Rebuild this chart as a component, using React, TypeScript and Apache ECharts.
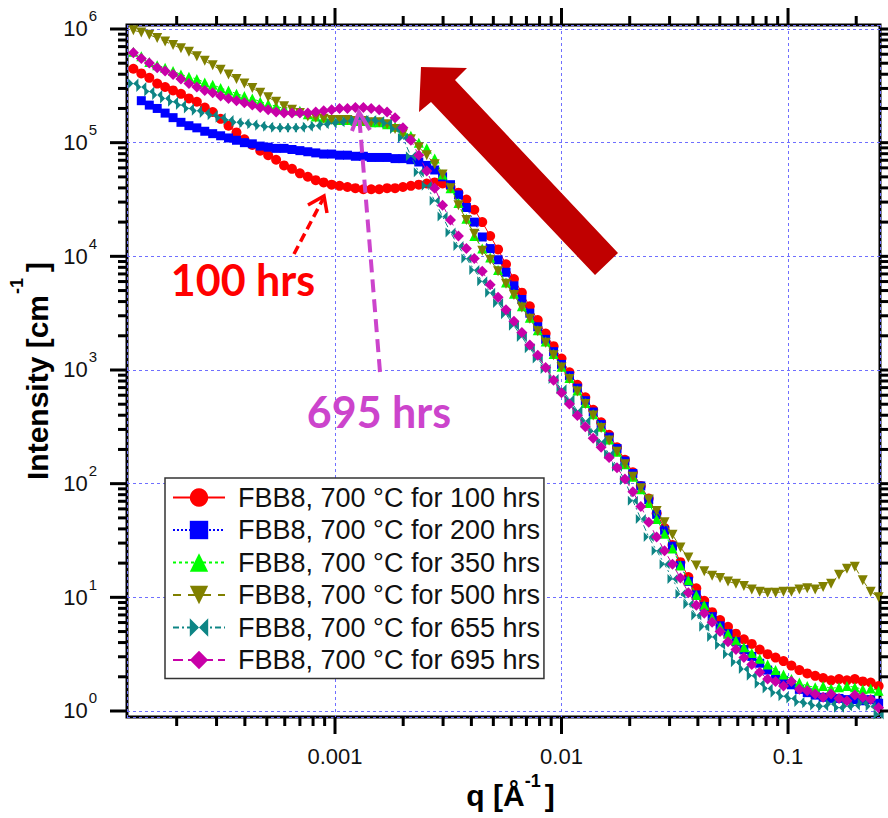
import { useEffect, useRef } from 'react';
import * as echarts from 'echarts';

// q grid (1/Å)
const qValues = [
  1.288e-4, 1.396e-4, 1.514e-4, 1.641e-4, 1.778e-4, 1.928e-4, 2.089e-4, 2.265e-4, 2.455e-4, 2.661e-4,
  2.884e-4, 3.126e-4, 3.388e-4, 3.673e-4, 3.981e-4, 4.315e-4, 4.677e-4, 5.070e-4, 5.495e-4, 5.957e-4,
  6.457e-4, 6.998e-4, 7.586e-4, 8.222e-4, 8.913e-4, 9.661e-4, 1.047e-3, 1.135e-3, 1.230e-3, 1.334e-3,
  1.445e-3, 1.567e-3, 1.698e-3, 1.841e-3, 1.995e-3, 2.163e-3, 2.344e-3, 2.541e-3, 2.754e-3, 2.985e-3,
  3.236e-3, 3.508e-3, 3.802e-3, 4.121e-3, 4.467e-3, 4.842e-3, 5.248e-3, 5.689e-3, 6.166e-3, 6.683e-3,
  7.244e-3, 7.852e-3, 8.511e-3, 9.226e-3, 1.000e-2, 1.084e-2, 1.175e-2, 1.274e-2, 1.380e-2, 1.496e-2,
  1.622e-2, 1.758e-2, 1.905e-2, 2.065e-2, 2.239e-2, 2.427e-2, 2.630e-2, 2.851e-2, 3.090e-2, 3.350e-2,
  3.631e-2, 3.936e-2, 4.266e-2, 4.624e-2, 5.012e-2, 5.433e-2, 5.888e-2, 6.383e-2, 6.918e-2, 7.499e-2,
  8.128e-2, 8.810e-2, 9.550e-2, 0.1035, 0.1122, 0.1216, 0.1318, 0.1429, 0.1549, 0.1679,
  0.1820, 0.1972, 0.2138, 0.2317, 0.2512,
];

const i100 = [
  4.47e5, 4.07e5, 3.72e5, 3.31e5, 3.09e5, 2.88e5, 2.69e5, 2.45e5, 2.29e5, 2.04e5,
  1.86e5, 1.62e5, 1.41e5, 1.23e5, 1.07e5, 9.55e4, 8.51e4, 7.76e4, 7.08e4, 6.31e4,
  5.89e4, 5.37e4, 5.01e4, 4.68e4, 4.47e4, 4.27e4, 4.17e4, 4.07e4, 3.98e4, 3.89e4,
  3.89e4, 3.89e4, 3.98e4, 3.98e4, 4.07e4, 4.17e4, 4.27e4, 4.37e4, 4.47e4, 4.37e4,
  4.07e4, 3.63e4, 3.16e4, 2.57e4, 2.00e4, 1.51e4, 1.15e4, 8.51e3, 6.31e3, 4.79e3,
  3.63e3, 2.75e3, 2.09e3, 1.62e3, 1.26e3, 955, 741, 575, 447, 347,
  269, 209, 162, 126, 95.5, 74.1, 55.0, 40.7, 28.8, 20.4,
  15.1, 12.0, 9.33, 7.41, 6.31, 5.50, 4.79, 4.27, 3.89, 3.47,
  3.16, 2.95, 2.75, 2.51, 2.29, 2.14, 2.04, 1.95, 1.86, 1.91,
  1.86, 1.91, 1.82, 1.78, 1.66,
];

const i200 = [
  null, 2.34e5, 2.14e5, 2.00e5, 1.82e5, 1.66e5, 1.51e5, 1.41e5, 1.35e5, 1.26e5,
  1.20e5, 1.15e5, 1.10e5, 1.05e5, 1.00e5, 9.77e4, 9.33e4, 9.12e4, 8.91e4, 8.91e4,
  8.71e4, 8.51e4, 8.32e4, 8.13e4, 7.94e4, 7.94e4, 7.76e4, 7.76e4, 7.59e4, 7.59e4,
  7.41e4, 7.41e4, 7.41e4, 7.24e4, 7.24e4, 7.08e4, 6.76e4, 6.31e4, 5.75e4, 5.01e4,
  4.27e4, 3.47e4, 2.69e4, 2.00e4, 1.48e4, 1.17e4, 9.33e3, 7.24e3, 5.50e3, 4.17e3,
  3.16e3, 2.40e3, 1.86e3, 1.45e3, 1.12e3, 891, 692, 537, 427, 331,
  257, 204, 158, 123, 95.5, 72.4, 53.7, 38.9, 28.2, 19.1,
  13.8, 10.5, 8.32, 6.76, 5.62, 4.79, 4.07, 3.47, 3.02, 2.63,
  2.29, 2.04, 1.86, 1.70, 1.55, 1.45, 1.38, 1.32, 1.29, 1.29,
  1.26, 1.26, 1.23, 1.26, 1.17,
];

const i350 = [
  6.31e5, 5.75e5, 5.13e5, 4.79e5, 4.57e5, 4.27e5, 3.98e5, 3.80e5, 3.63e5, 3.39e5,
  3.24e5, 3.02e5, 2.88e5, 2.69e5, 2.57e5, 2.45e5, 2.29e5, 2.19e5, 2.09e5, 2.00e5,
  1.95e5, 1.91e5, 1.78e5, 1.70e5, 1.66e5, 1.62e5, 1.58e5, 1.58e5, 1.55e5, 1.55e5,
  1.51e5, 1.51e5, 1.45e5, 1.38e5, 1.26e5, 1.15e5, 1.00e5, 8.91e4, 7.24e4, 5.25e4,
  3.98e4, 2.95e4, 2.14e4, 1.51e4, 1.17e4, 9.77e3, 7.59e3, 5.89e3, 4.68e3, 3.63e3,
  2.88e3, 2.24e3, 1.78e3, 1.38e3, 1.07e3, 851, 661, 513, 407, 316,
  245, 191, 148, 115, 89.1, 67.6, 49.0, 36.3, 26.9, 19.1,
  14.1, 10.5, 8.51, 6.61, 5.50, 4.79, 4.17, 3.63, 3.24, 2.88,
  2.57, 2.29, 2.09, 1.91, 1.78, 1.66, 1.62, 1.66, 1.58, 1.62,
  1.66, 1.62, 1.55, 1.58, 1.51,
];

const i500 = [
  9.77e5, 9.33e5, 8.91e5, 8.32e5, 7.76e5, 7.24e5, 6.76e5, 6.31e5, 5.75e5, 5.25e5,
  4.79e5, 4.37e5, 3.98e5, 3.63e5, 3.31e5, 3.02e5, 2.75e5, 2.51e5, 2.29e5, 2.09e5,
  1.95e5, 1.82e5, 1.70e5, 1.66e5, 1.62e5, 1.58e5, 1.58e5, 1.58e5, 1.55e5, 1.55e5,
  1.51e5, 1.51e5, 1.45e5, 1.32e5, 1.20e5, 1.07e5, 9.12e4, 7.76e4, 6.46e4, 5.25e4,
  3.98e4, 2.82e4, 2.09e4, 1.58e4, 1.12e4, 9.33e3, 7.41e3, 5.75e3, 4.57e3, 3.55e3,
  2.82e3, 2.19e3, 1.74e3, 1.35e3, 1.05e3, 832, 646, 501, 398, 309,
  240, 191, 148, 115, 91.2, 72.4, 57.5, 45.7, 35.5, 27.5,
  22.4, 19.1, 17.0, 15.5, 14.8, 13.8, 13.2, 12.6, 11.7, 11.2,
  11.0, 11.0, 11.2, 11.2, 11.7, 12.0, 11.7, 12.3, 13.2, 15.8,
  17.8, 18.6, 14.1, 11.2, 10.0,
];

const i655 = [
  3.31e5, 3.09e5, 2.82e5, 2.63e5, 2.45e5, 2.29e5, 2.14e5, 2.00e5, 1.91e5, 1.82e5,
  1.74e5, 1.66e5, 1.58e5, 1.51e5, 1.48e5, 1.45e5, 1.41e5, 1.38e5, 1.35e5, 1.35e5,
  1.35e5, 1.35e5, 1.38e5, 1.41e5, 1.45e5, 1.48e5, 1.51e5, 1.55e5, 1.58e5, 1.58e5,
  1.58e5, 1.55e5, 1.48e5, 1.32e5, 1.10e5, 7.59e4, 5.50e4, 4.17e4, 3.09e4, 2.24e4,
  1.62e4, 1.23e4, 9.55e3, 7.59e3, 6.03e3, 4.79e3, 3.89e3, 3.09e3, 2.45e3, 1.95e3,
  1.55e3, 1.26e3, 1.02e3, 832, 676, 550, 437, 355, 288, 234,
  182, 141, 107, 70.8, 49.0, 33.9, 25.7, 19.5, 14.5, 10.7,
  8.71, 6.92, 5.50, 4.47, 3.80, 3.16, 2.69, 2.34, 2.04, 1.74,
  1.58, 1.45, 1.35, 1.29, 1.20, 1.17, 1.12, 1.10, 1.15, 1.07,
  1.10, 1.12, 1.17, 1.10, 0.933,
];

const i695 = [
  6.17e5, 5.50e5, 5.01e5, 4.57e5, 4.27e5, 3.98e5, 3.63e5, 3.31e5, 3.09e5, 2.88e5,
  2.75e5, 2.57e5, 2.45e5, 2.34e5, 2.24e5, 2.14e5, 2.04e5, 1.95e5, 1.86e5, 1.82e5,
  1.82e5, 1.82e5, 1.82e5, 1.86e5, 1.91e5, 1.95e5, 2.00e5, 2.00e5, 2.04e5, 2.04e5,
  2.00e5, 1.95e5, 1.86e5, 1.66e5, 1.35e5, 1.05e5, 7.76e4, 5.62e4, 3.98e4, 2.82e4,
  2.09e4, 1.51e4, 1.17e4, 9.55e3, 7.41e3, 5.62e3, 4.37e3, 3.39e3, 2.69e3, 2.14e3,
  1.66e3, 1.35e3, 1.05e3, 813, 631, 501, 398, 316, 251, 209,
  170, 138, 110, 85.1, 63.1, 45.7, 33.9, 25.7, 19.5, 14.8,
  11.0, 8.51, 7.24, 6.03, 5.01, 4.07, 3.47, 2.95, 2.57, 2.19,
  1.91, 1.82, 1.66, 1.82, 1.55, 1.51, 1.41, 1.32, 1.41, 1.29,
  1.23, 1.38, 1.32, 1.26, 1.07,
];

const seriesNames = [
  'FBB8, 700 °C for 100 hrs',
  'FBB8, 700 °C for 200 hrs',
  'FBB8, 700 °C for 350 hrs',
  'FBB8, 700 °C for 500 hrs',
  'FBB8, 700 °C for 655 hrs',
  'FBB8, 700 °C for 695 hrs',
];

const xMajorTicks = [0.001, 0.01, 0.1];
const xMinorTicks = [
  2e-4, 3e-4, 4e-4, 5e-4, 6e-4, 7e-4, 8e-4, 9e-4,
  2e-3, 3e-3, 4e-3, 5e-3, 6e-3, 7e-3, 8e-3, 9e-3,
  2e-2, 3e-2, 4e-2, 5e-2, 6e-2, 7e-2, 8e-2, 9e-2,
  0.2,
];
const yMajorTicks = [1, 10, 100, 1e3, 1e4, 1e5, 1e6];
const yMinorTicks = [
  2, 3, 4, 5, 6, 7, 8, 9,
  20, 30, 40, 50, 60, 70, 80, 90,
  200, 300, 400, 500, 600, 700, 800, 900,
  2e3, 3e3, 4e3, 5e3, 6e3, 7e3, 8e3, 9e3,
  2e4, 3e4, 4e4, 5e4, 6e4, 7e4, 8e4, 9e4,
  2e5, 3e5, 4e5, 5e5, 6e5, 7e5, 8e5, 9e5,
];

const FONT = '"Liberation Sans", Arial, Helvetica, sans-serif';
const BOWTIE = 'path://M0,0L8,8L0,16ZM16,0L8,8L16,16Z';

export default function App() {
  const ref = useRef<HTMLDivElement>(null);

  useEffect(() => {
    const chart = echarts.init(ref.current as HTMLDivElement, null, { renderer: 'svg' });

    const defs = [
      { data: i100, color: '#FF0000', symbol: 'circle', size: 10, rotate: 0, dash: 'solid' as any },
      { data: i200, color: '#0000FF', symbol: 'rect', size: 9, rotate: 0, dash: [2, 2] },
      { data: i350, color: '#00FF00', symbol: 'triangle', size: 10, rotate: 0, dash: [3, 3] },
      { data: i500, color: '#808000', symbol: 'triangle', size: 10, rotate: 180, dash: [8, 7] },
      { data: i655, color: '#0E8585', symbol: BOWTIE, size: 10, rotate: 0, dash: [6, 3, 2, 3] },
      { data: i695, color: '#C800A8', symbol: 'diamond', size: 11, rotate: 0, dash: [10, 5] },
    ];

    const lineSeries = defs.map((d, k) => ({
      name: seriesNames[k],
      type: 'line',
      data: qValues
        .map((q, j) => [q, d.data[j]])
        .filter((p) => p[1] !== null && p[1] !== undefined),
      symbol: d.symbol,
      symbolSize: d.size,
      symbolRotate: d.rotate,
      showAllSymbol: true,
      lineStyle: { color: d.color, width: 1, type: d.dash },
      itemStyle: { color: d.color },
      emphasis: { disabled: true },
      z: 3 + k,
    }));

    const xTickData = xMajorTicks
      .map((v) => [v, 1, 17])
      .concat(xMinorTicks.map((v) => [v, 1, 9]));
    const yTickData = yMajorTicks
      .map((v) => [0.001, v, 17])
      .concat(yMinorTicks.map((v) => [0.001, v, 9]));

    const tickStyle = { stroke: '#000', lineWidth: 3 };

    const option: any = {
      animation: false,
      backgroundColor: '#ffffff',
      grid: {
        left: 127,
        right: 8,
        top: 25,
        bottom: 101,
        containLabel: false,
        outerBoundsMode: 'none',
        show: true,
        borderColor: '#000',
        borderWidth: 3,
        backgroundColor: 'transparent',
      },
      xAxis: {
        type: 'log',
        logBase: 10,
        min: 1.207e-4,
        max: 0.2547,
        axisLine: { show: false },
        axisTick: { show: false },
        splitLine: { show: true, lineStyle: { color: '#6f6fff', type: [3, 3], width: 1 } },
        axisLabel: {
          show: true,
          interval: 0,
          margin: 28,
          fontFamily: FONT,
          fontSize: 22,
          color: '#111',
          showMinLabel: false,
          showMaxLabel: false,
          formatter: (v: number) => {
            const l = Math.log10(v);
            const e = Math.round(l);
            if (Math.abs(l - e) > 0.01) return '';
            if (e === -3) return '0.001';
            if (e === -2) return '0.01';
            if (e === -1) return '0.1';
            return '';
          },
        },
        name: '{b|q [Å}{s|-1}{b|]}',
        nameLocation: 'middle',
        nameGap: 61,
        nameTextStyle: {
          padding: [0, 0, 0, 14],
          rich: {
            b: { fontFamily: FONT, fontSize: 30, fontWeight: 'bold', color: '#000', lineHeight: 30 },
            s: {
              fontFamily: FONT,
              fontSize: 18,
              fontWeight: 'bold',
              color: '#000',
              lineHeight: 18,
              padding: [0, 4, 30, 0],
            },
          },
        },
      },
      yAxis: {
        type: 'log',
        logBase: 10,
        min: 0.8855,
        max: 1.0844e6,
        axisLine: { show: false },
        axisTick: { show: false },
        splitLine: { show: true, lineStyle: { color: '#6f6fff', type: [3, 3], width: 1 } },
        axisLabel: {
          show: true,
          interval: 0,
          margin: 30,
          showMinLabel: false,
          showMaxLabel: false,
          formatter: (v: number) => {
            const l = Math.log10(v);
            const e = Math.round(l);
            if (Math.abs(l - e) > 0.01) return '';
            return '{b|10}{s|' + e + '}';
          },
          rich: {
            b: { fontFamily: FONT, fontSize: 22, color: '#111', lineHeight: 22 },
            s: { fontFamily: FONT, fontSize: 15, color: '#111', lineHeight: 15, padding: [0, 0, 26, 1] },
          },
        },
        name: '{b|Intensity [cm}{s|-1}{b|]}',
        nameLocation: 'middle',
        nameRotate: 90,
        nameGap: 75,
        nameMoveOverlap: false,
        nameTextStyle: {
          rich: {
            b: { fontFamily: FONT, fontSize: 30, fontWeight: 'bold', color: '#000', lineHeight: 30 },
            s: {
              fontFamily: FONT,
              fontSize: 18,
              fontWeight: 'bold',
              color: '#000',
              lineHeight: 18,
              padding: [0, 6, 40, 1],
            },
          },
        },
      },
      legend: {
        data: seriesNames,
        orient: 'vertical',
        left: 165,
        top: 478,
        padding: [6, 4, 5, 7],
        itemWidth: 52,
        itemHeight: 23,
        itemGap: 5.5,
        backgroundColor: '#fff',
        borderColor: '#333',
        borderWidth: 1.5,
        selectedMode: false,
        textStyle: { fontFamily: FONT, fontSize: 27, color: '#111', padding: [0, 0, 0, 8] },
        z: 20,
      },
      series: [
        ...lineSeries,
        {
          type: 'custom',
          coordinateSystem: 'cartesian2d',
          silent: true,
          clip: false,
          z: 10,
          data: xTickData,
          renderItem: (params: any, api: any) => {
            const cs = params.coordSys;
            const x = api.coord([api.value(0), 1])[0];
            const len = api.value(2);
            const b = cs.y + cs.height;
            const t = cs.y;
            return {
              type: 'group',
              children: [
                { type: 'line', shape: { x1: x, y1: b, x2: x, y2: b + len }, style: tickStyle },
                { type: 'line', shape: { x1: x, y1: t, x2: x, y2: t - len }, style: tickStyle },
              ],
            };
          },
        },
        {
          type: 'custom',
          coordinateSystem: 'cartesian2d',
          silent: true,
          clip: false,
          z: 10,
          data: yTickData,
          renderItem: (params: any, api: any) => {
            const cs = params.coordSys;
            const y = api.coord([0.001, api.value(1)])[1];
            const len = api.value(2);
            const l = cs.x;
            const r = cs.x + cs.width;
            return {
              type: 'group',
              children: [
                { type: 'line', shape: { x1: l, y1: y, x2: l - len, y2: y }, style: tickStyle },
                { type: 'line', shape: { x1: r, y1: y, x2: r + len, y2: y }, style: tickStyle },
              ],
            };
          },
        },
      ],
      graphic: [
        {
          type: 'polygon',
          z: 30,
          shape: {
            points: [
              [421, 67],
              [467, 68],
              [455, 80],
              [618, 253],
              [595, 275],
              [431, 102],
              [419, 112],
            ],
          },
          style: { fill: '#C00000' },
        },
        {
          type: 'line',
          z: 30,
          shape: { x1: 294, y1: 254, x2: 323, y2: 199 },
          style: { stroke: '#FF0000', lineWidth: 3.5, lineDash: [9, 5] },
        },
        {
          type: 'polyline',
          z: 30,
          shape: { points: [[308, 205], [324, 196], [327, 213]] },
          style: { stroke: '#FF0000', lineWidth: 3.5, fill: null },
        },
        {
          type: 'line',
          z: 30,
          shape: { x1: 380, y1: 372, x2: 359, y2: 114 },
          style: { stroke: '#CC44CC', lineWidth: 4, lineDash: [13, 7] },
        },
        {
          type: 'polyline',
          z: 30,
          shape: { points: [[352, 131], [359, 112], [370, 130]] },
          style: { stroke: '#CC44CC', lineWidth: 4, fill: null },
        },
        {
          type: 'text',
          z: 30,
          x: 243,
          y: 279,
          style: {
            text: '100 hrs',
            fill: '#FF0000',
            fontFamily: 'Lato',
            fontWeight: 'bold',
            fontSize: 43,
            align: 'center',
            verticalAlign: 'middle',
            textAlign: 'center',
            textVerticalAlign: 'middle',
          },
        },
        {
          type: 'text',
          z: 30,
          x: 379,
          y: 411,
          style: {
            text: '695 hrs',
            fill: '#CC44CC',
            fontFamily: 'Lato',
            fontWeight: 'bold',
            fontSize: 43,
            align: 'center',
            verticalAlign: 'middle',
            textAlign: 'center',
            textVerticalAlign: 'middle',
          },
        },
      ],
    };

    chart.setOption(option);
    return () => {
      chart.dispose();
    };
  }, []);

  return (
    <div
      ref={ref}
      style={{ position: 'fixed', left: 0, top: 0, width: 888, height: 818, background: '#fff' }}
    />
  );
}
